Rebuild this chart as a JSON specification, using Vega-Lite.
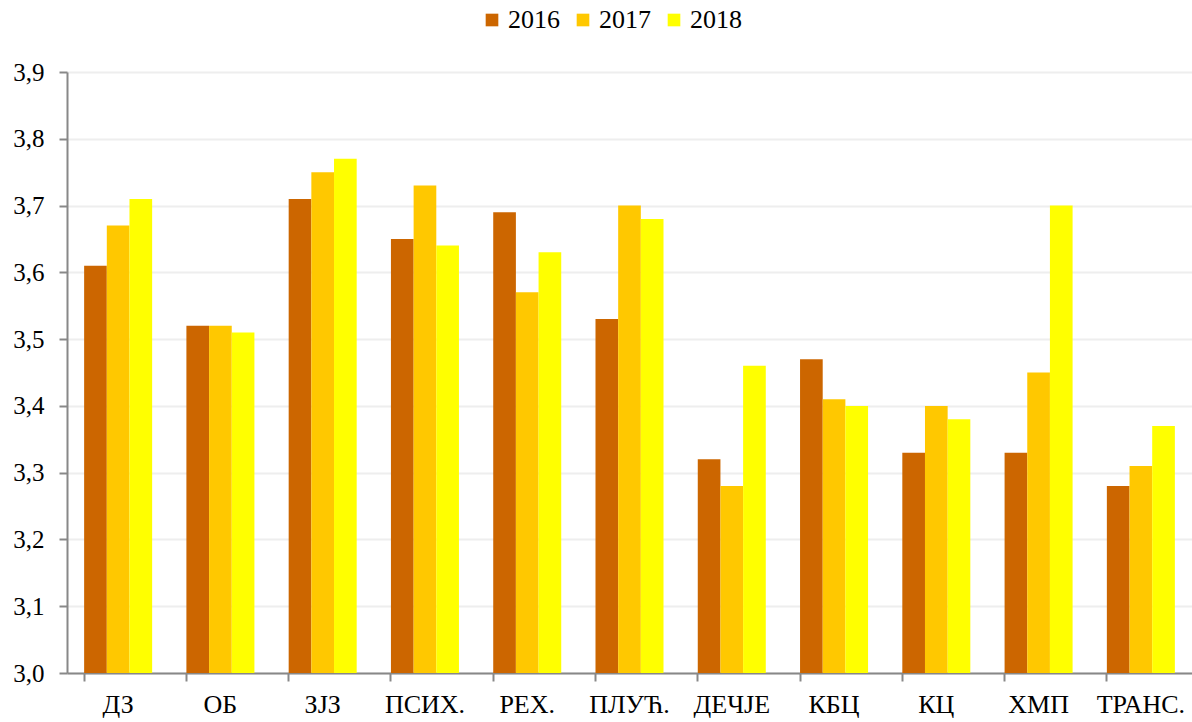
{
  "$schema": "https://vega.github.io/schema/vega-lite/v6.json",
  "autosize": "none",
  "width": 1125,
  "height": 601,
  "padding": {"left": 67, "top": 72, "right": 0, "bottom": 49},
  "background": "white",
  "config": {
    "font": "Liberation Serif",
    "view": {"stroke": null}
  },
  "data": {
    "values": [
      {"cat": "ДЗ", "year": "2016", "v": 3.61},
      {"cat": "ДЗ", "year": "2017", "v": 3.67},
      {"cat": "ДЗ", "year": "2018", "v": 3.71},
      {"cat": "ОБ", "year": "2016", "v": 3.52},
      {"cat": "ОБ", "year": "2017", "v": 3.52},
      {"cat": "ОБ", "year": "2018", "v": 3.51},
      {"cat": "ЗЈЗ", "year": "2016", "v": 3.71},
      {"cat": "ЗЈЗ", "year": "2017", "v": 3.75},
      {"cat": "ЗЈЗ", "year": "2018", "v": 3.77},
      {"cat": "ПСИХ.", "year": "2016", "v": 3.65},
      {"cat": "ПСИХ.", "year": "2017", "v": 3.73},
      {"cat": "ПСИХ.", "year": "2018", "v": 3.64},
      {"cat": "РЕХ.", "year": "2016", "v": 3.69},
      {"cat": "РЕХ.", "year": "2017", "v": 3.57},
      {"cat": "РЕХ.", "year": "2018", "v": 3.63},
      {"cat": "ПЛУЋ.", "year": "2016", "v": 3.53},
      {"cat": "ПЛУЋ.", "year": "2017", "v": 3.70},
      {"cat": "ПЛУЋ.", "year": "2018", "v": 3.68},
      {"cat": "ДЕЧЈЕ", "year": "2016", "v": 3.32},
      {"cat": "ДЕЧЈЕ", "year": "2017", "v": 3.28},
      {"cat": "ДЕЧЈЕ", "year": "2018", "v": 3.46},
      {"cat": "КБЦ", "year": "2016", "v": 3.47},
      {"cat": "КБЦ", "year": "2017", "v": 3.41},
      {"cat": "КБЦ", "year": "2018", "v": 3.40},
      {"cat": "КЦ", "year": "2016", "v": 3.33},
      {"cat": "КЦ", "year": "2017", "v": 3.40},
      {"cat": "КЦ", "year": "2018", "v": 3.38},
      {"cat": "ХМП", "year": "2016", "v": 3.33},
      {"cat": "ХМП", "year": "2017", "v": 3.45},
      {"cat": "ХМП", "year": "2018", "v": 3.70},
      {"cat": "ТРАНС.", "year": "2016", "v": 3.28},
      {"cat": "ТРАНС.", "year": "2017", "v": 3.31},
      {"cat": "ТРАНС.", "year": "2018", "v": 3.37}
    ]
  },
  "mark": {"type": "bar"},
  "encoding": {
    "x": {
      "field": "cat",
      "type": "nominal",
      "sort": null,
      "title": null,
      "scale": {"paddingInner": 0.335, "paddingOuter": 0.1675},
      "axis": {
        "bandPosition": 0,
        "labelAngle": 0,
        "labelFontSize": 26,
        "labelColor": "black",
        "labelPadding": 10,
        "tickSize": 8,
        "tickColor": "#888888",
        "domainColor": "#888888",
        "domainWidth": 2,
        "tickWidth": 2,
        "grid": false
      }
    },
    "xOffset": {"field": "year", "type": "nominal", "sort": ["2016", "2017", "2018"], "scale": {"paddingInner": 0, "paddingOuter": 0}},
    "y": {
      "field": "v",
      "type": "quantitative",
      "title": null,
      "scale": {"domain": [3.0, 3.9], "zero": false, "nice": false},
      "axis": {
        "values": [3.0, 3.1, 3.2, 3.3, 3.4, 3.5, 3.6, 3.7, 3.8, 3.9],
        "labelExpr": "replace(format(datum.value, '.1f'), '.', ',')",
        "labelFontSize": 25,
        "labelColor": "black",
        "labelPadding": 15,
        "tickSize": 8,
        "tickWidth": 2,
        "tickColor": "#888888",
        "domainColor": "#888888",
        "domainWidth": 2,
        "gridColor": "#eeeeee",
        "gridWidth": 2
      }
    },
    "y2": {"datum": 3.0},
    "color": {
      "field": "year",
      "type": "nominal",
      "scale": {"domain": ["2016", "2017", "2018"], "range": ["#CC6600", "#FFC800", "#FFFF00"]},
      "legend": {
        "title": null,
        "orient": "none",
        "direction": "horizontal",
        "legendX": 412,
        "legendY": -65,
        "symbolType": "square",
        "symbolSize": 160,
        "symbolStrokeWidth": 0,
        "labelFontSize": 26,
        "labelColor": "black",
        "labelOffset": 3,
        "columnPadding": 10
      }
    }
  }
}
